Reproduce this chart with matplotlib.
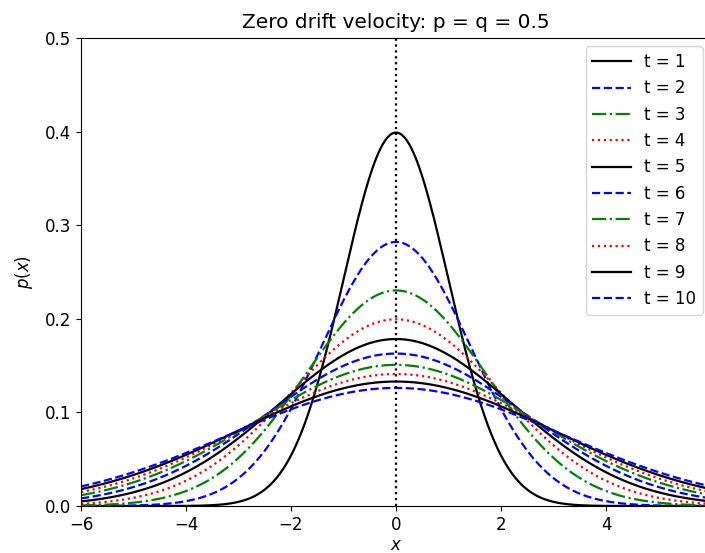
import numpy as np
import matplotlib
matplotlib.use("Agg")
import matplotlib.pyplot as plt

# diffusion times shown in the legend
times = [1, 2, 3, 4, 5, 6, 7, 8, 9, 10]
colors = ["k", "b", "g", "r"]
styles = ["-", "--", "-.", ":"]

x_min, x_max = -6, 6
y_min, y_max = 0.0, 0.5
xticks = [-6, -4, -2, 0, 2, 4]
yticks = [0.0, 0.1, 0.2, 0.3, 0.4, 0.5]

fig = plt.figure(figsize=(7.05, 5.53), dpi=100)
ax = fig.add_axes([81 / 705, 47 / 553, 630 / 705, 468 / 553])

x = np.linspace(x_min, x_max, 600)
for i, t in enumerate(times):
    # gaussian spreading with variance t (p = q = 0.5)
    p = np.exp(-x ** 2 / (2 * t)) / np.sqrt(2 * np.pi * t)
    ax.plot(x, p, color=colors[i % 4], linestyle=styles[i % 4], linewidth=1.6, label=f"t = {t}")

ax.axvline(0, color="k", linestyle=":", linewidth=1.6)

ax.set_xlim(x_min, x_max)
ax.set_ylim(y_min, y_max)
ax.set_xticks(xticks)
ax.set_yticks(yticks)
ax.tick_params(labelsize=12)
ax.set_xlabel("$x$", fontsize=12, labelpad=2)
ax.set_ylabel("$p(x)$", fontsize=12, labelpad=7)
ax.set_title("Zero drift velocity: p = q = 0.5", fontsize=14.5, pad=7)
ax.legend(loc="upper right", fontsize=12, handlelength=2.3)

fig.savefig("out.png", dpi=100)
